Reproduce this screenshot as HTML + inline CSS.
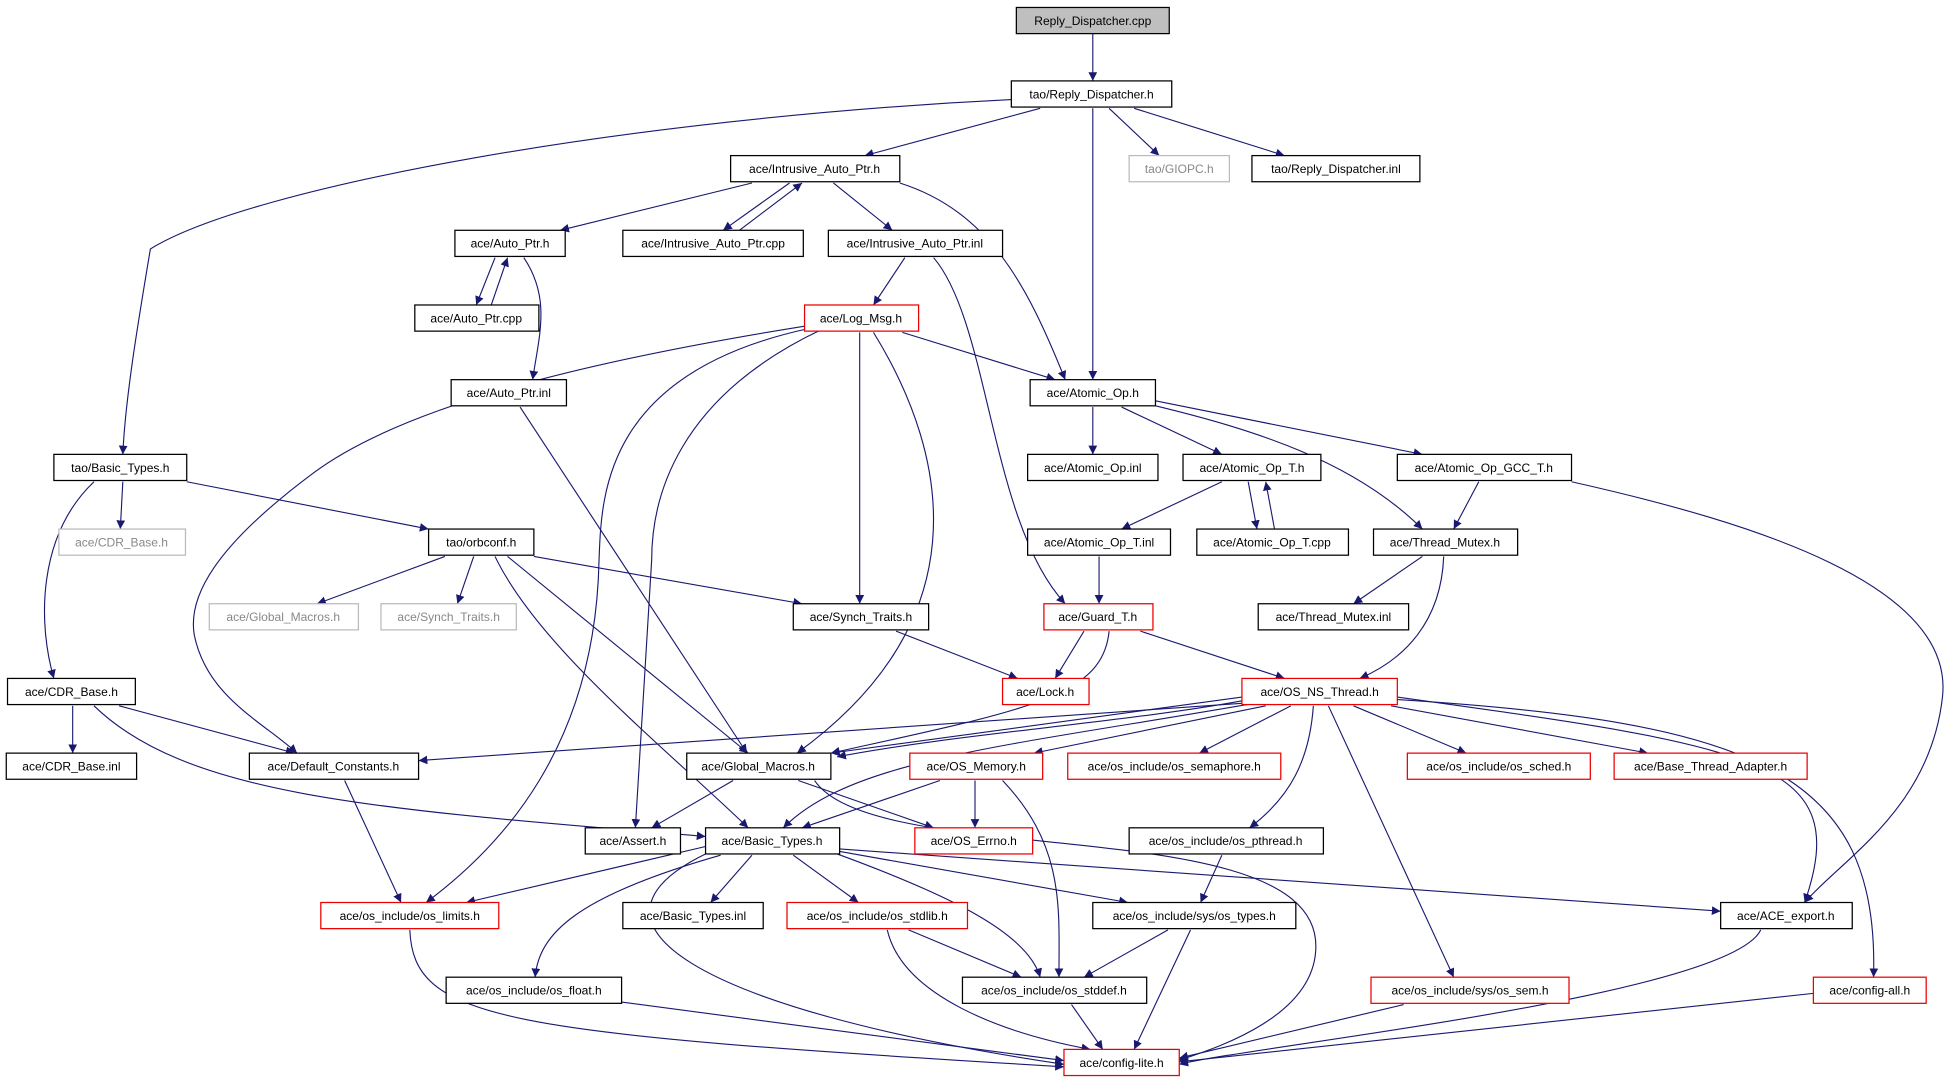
<!DOCTYPE html>
<html><head><meta charset="utf-8"><style>
html,body{margin:0;padding:0;background:#fff;}
svg{display:block;}
text{font-family:"Liberation Sans",sans-serif;font-size:9.6px;fill:#000;}
.e{fill:none;stroke:#191970;stroke-width:0.9;marker-end:url(#a);}
.n{fill:#fff;stroke:#000;stroke-width:1;}
.r{fill:#fff;stroke:#e00;stroke-width:1;}
.g{fill:#fff;stroke:#bbb;stroke-width:1;}
</style></head><body>
<svg width="1955" height="1083" viewBox="0 0 1560 870" preserveAspectRatio="none" xmlns="http://www.w3.org/2000/svg">
<defs><marker id="a" viewBox="0 0 10 10" refX="10" refY="5" markerWidth="7" markerHeight="7" orient="auto" markerUnits="userSpaceOnUse"><path d="M0,0 L10,5 L0,10 z" fill="#191970"/></marker></defs>
<g>
<path class="e" d="M872,27 L872,65"/>
<path class="e" d="M807,80 C500,95 200,150 120,200 C110,260 100,320 98,365"/>
<path class="e" d="M830,87 L690,125"/>
<path class="e" d="M872,87 L872,305"/>
<path class="e" d="M885,87 L925,125"/>
<path class="e" d="M905,87 L1025,125"/>
<path class="e" d="M600,147 L447,185"/>
<path class="e" d="M630,147 L577,185"/>
<path class="e" d="M590,185 L640,147"/>
<path class="e" d="M665,147 L712,185"/>
<path class="e" d="M718,147 C790,170 820,230 850,305"/>
<path class="e" d="M395,207 L380,245"/>
<path class="e" d="M392,245 L405,207"/>
<path class="e" d="M418,207 C440,240 430,270 425,305"/>
<path class="e" d="M722,207 L697,245"/>
<path class="e" d="M745,207 C790,260 790,420 850,485"/>
<path class="e" d="M642,262 C500,285 330,320 250,380 C170,440 150,480 155,510 C165,560 210,580 237,605"/>
<path class="e" d="M645,264 C480,300 480,400 478,450 C475,600 400,680 340,725"/>
<path class="e" d="M655,265 C540,320 520,400 520,450 L507,665"/>
<path class="e" d="M686,267 L686,485"/>
<path class="e" d="M697,267 C760,370 780,500 636,605"/>
<path class="e" d="M720,267 L842,305"/>
<path class="e" d="M415,327 L596,605"/>
<path class="e" d="M872,327 L872,365"/>
<path class="e" d="M895,327 L975,365"/>
<path class="e" d="M922,322 L1135,365"/>
<path class="e" d="M922,326 C1000,345 1080,370 1135,425"/>
<path class="e" d="M975,387 L895,425"/>
<path class="e" d="M996,387 L1003,425"/>
<path class="e" d="M1017,425 L1010,387"/>
<path class="e" d="M1180,387 L1160,425"/>
<path class="e" d="M1254,387 C1400,420 1560,470 1550,560 C1540,650 1470,690 1440,725"/>
<path class="e" d="M877,447 L877,485"/>
<path class="e" d="M1135,447 L1080,485"/>
<path class="e" d="M1152,447 C1150,500 1120,530 1085,545"/>
<path class="e" d="M98,387 L96,425"/>
<path class="e" d="M75,387 C30,430 30,500 43,545"/>
<path class="e" d="M149,387 L342,425"/>
<path class="e" d="M355,447 L253,485"/>
<path class="e" d="M378,447 L365,485"/>
<path class="e" d="M426,447 L640,485"/>
<path class="e" d="M395,447 C430,520 530,600 597,665"/>
<path class="e" d="M405,447 L597,605"/>
<path class="e" d="M715,507 L812,545"/>
<path class="e" d="M865,507 L842,545"/>
<path class="e" d="M885,507 C880,560 820,570 663,605"/>
<path class="e" d="M910,507 L1025,545"/>
<path class="e" d="M58,567 L58,605"/>
<path class="e" d="M95,567 L235,605"/>
<path class="e" d="M75,567 C150,640 300,650 563,672"/>
<path class="e" d="M991,565 L334,611"/>
<path class="e" d="M991,560 L663,605"/>
<path class="e" d="M991,563 C900,580 760,590 668,608"/>
<path class="e" d="M995,566 C800,600 680,610 625,665"/>
<path class="e" d="M1010,567 L825,605"/>
<path class="e" d="M1030,567 L957,605"/>
<path class="e" d="M1048,567 C1045,610 1030,640 997,665"/>
<path class="e" d="M1060,567 L1160,785"/>
<path class="e" d="M1080,567 L1170,605"/>
<path class="e" d="M1110,567 L1315,605"/>
<path class="e" d="M1115,560 C1400,600 1480,610 1440,725"/>
<path class="e" d="M1115,562 C1400,580 1500,620 1495,785"/>
<path class="e" d="M585,627 L520,665"/>
<path class="e" d="M637,627 L745,665"/>
<path class="e" d="M650,627 C700,700 1050,650 1050,760 C1050,820 960,845 940,852"/>
<path class="e" d="M750,627 L640,665"/>
<path class="e" d="M778,627 L778,665"/>
<path class="e" d="M800,627 C850,680 845,730 845,785"/>
<path class="e" d="M275,627 L320,725"/>
<path class="e" d="M563,680 L372,725"/>
<path class="e" d="M600,687 L567,725"/>
<path class="e" d="M633,687 L685,725"/>
<path class="e" d="M670,684 L900,725"/>
<path class="e" d="M670,682 L1373,732"/>
<path class="e" d="M668,686 C760,720 820,750 830,785"/>
<path class="e" d="M575,687 C460,720 430,750 427,785"/>
<path class="e" d="M565,685 C450,740 550,810 849,855"/>
<path class="e" d="M327,747 C330,820 400,830 849,857"/>
<path class="e" d="M725,747 L815,785"/>
<path class="e" d="M708,747 C720,800 800,830 870,843"/>
<path class="e" d="M932,747 L865,785"/>
<path class="e" d="M950,747 L905,843"/>
<path class="e" d="M975,687 L958,725"/>
<path class="e" d="M1405,747 C1380,800 1000,840 941,855"/>
<path class="e" d="M496,805 L849,852"/>
<path class="e" d="M855,807 L880,843"/>
<path class="e" d="M1120,807 L941,850"/>
<path class="e" d="M1447,798 L941,853"/>
</g>
<g text-anchor="middle">
<rect x="811" y="6" width="122" height="21" fill="#bfbfbf" stroke="#000"/><text x="872" y="20">Reply_Dispatcher.cpp</text>
<rect class="n" x="807" y="65" width="128" height="21"/><text x="871" y="79">tao/Reply_Dispatcher.h</text>
<rect class="n" x="583" y="125" width="135" height="21"/><text x="650" y="139">ace/Intrusive_Auto_Ptr.h</text>
<rect class="g" x="901" y="125" width="80" height="21"/><text x="941" y="139" style="fill:#888">tao/GIOPC.h</text>
<rect class="n" x="999" y="125" width="134" height="21"/><text x="1066" y="139">tao/Reply_Dispatcher.inl</text>
<rect class="n" x="363" y="185" width="88" height="21"/><text x="407" y="199">ace/Auto_Ptr.h</text>
<rect class="n" x="497" y="185" width="144" height="21"/><text x="569" y="199">ace/Intrusive_Auto_Ptr.cpp</text>
<rect class="n" x="661" y="185" width="139" height="21"/><text x="730" y="199">ace/Intrusive_Auto_Ptr.inl</text>
<rect class="n" x="331" y="245" width="99" height="21"/><text x="380" y="259">ace/Auto_Ptr.cpp</text>
<rect class="r" x="642" y="245" width="91" height="21"/><text x="687" y="259">ace/Log_Msg.h</text>
<rect class="n" x="360" y="305" width="92" height="21"/><text x="406" y="319">ace/Auto_Ptr.inl</text>
<rect class="n" x="822" y="305" width="100" height="21"/><text x="872" y="319">ace/Atomic_Op.h</text>
<rect class="n" x="43" y="365" width="106" height="21"/><text x="96" y="379">tao/Basic_Types.h</text>
<rect class="n" x="820" y="365" width="104" height="21"/><text x="872" y="379">ace/Atomic_Op.inl</text>
<rect class="n" x="944" y="365" width="110" height="21"/><text x="999" y="379">ace/Atomic_Op_T.h</text>
<rect class="n" x="1115" y="365" width="139" height="21"/><text x="1184" y="379">ace/Atomic_Op_GCC_T.h</text>
<rect class="g" x="47" y="425" width="101" height="21"/><text x="97" y="439" style="fill:#888">ace/CDR_Base.h</text>
<rect class="n" x="342" y="425" width="84" height="21"/><text x="384" y="439">tao/orbconf.h</text>
<rect class="n" x="820" y="425" width="114" height="21"/><text x="877" y="439">ace/Atomic_Op_T.inl</text>
<rect class="n" x="955" y="425" width="121" height="21"/><text x="1015" y="439">ace/Atomic_Op_T.cpp</text>
<rect class="n" x="1096" y="425" width="115" height="21"/><text x="1153" y="439">ace/Thread_Mutex.h</text>
<rect class="g" x="167" y="485" width="119" height="21"/><text x="226" y="499" style="fill:#888">ace/Global_Macros.h</text>
<rect class="g" x="304" y="485" width="108" height="21"/><text x="358" y="499" style="fill:#888">ace/Synch_Traits.h</text>
<rect class="n" x="633" y="485" width="108" height="21"/><text x="687" y="499">ace/Synch_Traits.h</text>
<rect class="r" x="833" y="485" width="87" height="21"/><text x="876" y="499">ace/Guard_T.h</text>
<rect class="n" x="1004" y="485" width="120" height="21"/><text x="1064" y="499">ace/Thread_Mutex.inl</text>
<rect class="n" x="6" y="545" width="102" height="21"/><text x="57" y="559">ace/CDR_Base.h</text>
<rect class="r" x="800" y="545" width="69" height="21"/><text x="834" y="559">ace/Lock.h</text>
<rect class="r" x="991" y="545" width="124" height="21"/><text x="1053" y="559">ace/OS_NS_Thread.h</text>
<rect class="n" x="5" y="605" width="104" height="21"/><text x="57" y="619">ace/CDR_Base.inl</text>
<rect class="n" x="199" y="605" width="135" height="21"/><text x="266" y="619">ace/Default_Constants.h</text>
<rect class="n" x="548" y="605" width="115" height="21"/><text x="605" y="619">ace/Global_Macros.h</text>
<rect class="r" x="726" y="605" width="106" height="21"/><text x="779" y="619">ace/OS_Memory.h</text>
<rect class="r" x="852" y="605" width="170" height="21"/><text x="937" y="619">ace/os_include/os_semaphore.h</text>
<rect class="r" x="1123" y="605" width="146" height="21"/><text x="1196" y="619">ace/os_include/os_sched.h</text>
<rect class="r" x="1288" y="605" width="154" height="21"/><text x="1365" y="619">ace/Base_Thread_Adapter.h</text>
<rect class="n" x="467" y="665" width="76" height="21"/><text x="505" y="679">ace/Assert.h</text>
<rect class="n" x="563" y="665" width="107" height="21"/><text x="616" y="679">ace/Basic_Types.h</text>
<rect class="r" x="730" y="665" width="94" height="21"/><text x="777" y="679">ace/OS_Errno.h</text>
<rect class="n" x="901" y="665" width="155" height="21"/><text x="978" y="679">ace/os_include/os_pthread.h</text>
<rect class="r" x="256" y="725" width="142" height="21"/><text x="327" y="739">ace/os_include/os_limits.h</text>
<rect class="n" x="497" y="725" width="112" height="21"/><text x="553" y="739">ace/Basic_Types.inl</text>
<rect class="r" x="628" y="725" width="144" height="21"/><text x="700" y="739">ace/os_include/os_stdlib.h</text>
<rect class="n" x="872" y="725" width="162" height="21"/><text x="953" y="739">ace/os_include/sys/os_types.h</text>
<rect class="n" x="1373" y="725" width="105" height="21"/><text x="1425" y="739">ace/ACE_export.h</text>
<rect class="n" x="356" y="785" width="140" height="21"/><text x="426" y="799">ace/os_include/os_float.h</text>
<rect class="n" x="768" y="785" width="147" height="21"/><text x="841" y="799">ace/os_include/os_stddef.h</text>
<rect class="r" x="1094" y="785" width="158" height="21"/><text x="1173" y="799">ace/os_include/sys/os_sem.h</text>
<rect class="r" x="1447" y="785" width="90" height="21"/><text x="1492" y="799">ace/config-all.h</text>
<rect class="r" x="849" y="843" width="92" height="21"/><text x="895" y="857">ace/config-lite.h</text>
</g>
</svg>
</body></html>
